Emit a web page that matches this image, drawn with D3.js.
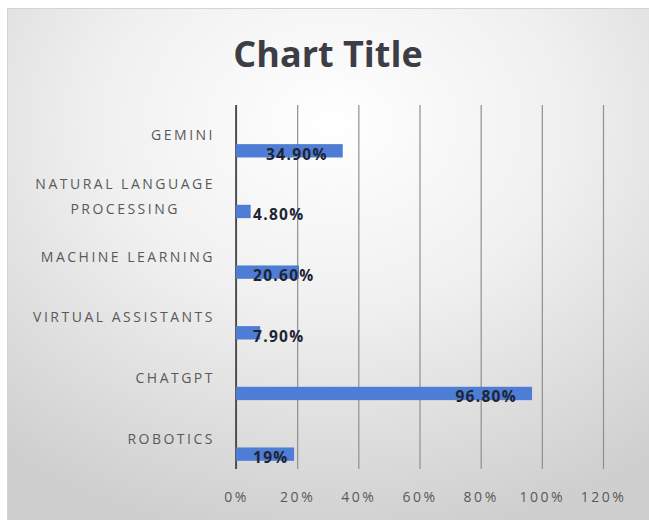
<!DOCTYPE html>
<html>
<head>
<meta charset="utf-8">
<script src="https://cdn.jsdelivr.net/npm/d3@7"></script>
<style>
  html, body { margin: 0; padding: 0; background: #fff; }
  svg { display: block; }
</style>
</head>
<body>
<svg id="chart"></svg>
<script>
// data, top to bottom as drawn
const categories = ["GEMINI", "NATURAL LANGUAGE PROCESSING", "MACHINE LEARNING", "VIRTUAL ASSISTANTS", "CHATGPT", "ROBOTICS"]
const values = [0.349, 0.048, 0.206, 0.079, 0.968, 0.19]
const valueLabels = ["34.90%", "4.80%", "20.60%", "7.90%", "96.80%", "19%"]
const tickValues = [0, 0.2, 0.4, 0.6, 0.8, 1.0, 1.2]
const title = "Chart Title"

const width = 649
const height = 520
const font = "'Open Sans', sans-serif"

const svg = d3.select('#chart')
  .attr('width', width)
  .attr('height', height)

// background gradient like the office style
const defs = svg.append('defs')
const grad = defs.append('radialGradient')
  .attr('id', 'bg')
  .attr('cx', '50%').attr('cy', '22%').attr('r', '80%')
grad.append('stop').attr('offset', '0%').attr('stop-color', '#ffffff')
grad.append('stop').attr('offset', '45%').attr('stop-color', '#f0f0f0')
grad.append('stop').attr('offset', '100%').attr('stop-color', '#cfcfcf')

svg.append('rect')
  .attr('x', 7.5).attr('y', 8.5)
  .attr('width', width).attr('height', height)
  .attr('fill', 'url(#bg)')
  .attr('stroke', '#d4d4d4')

// title
svg.append('text')
  .attr('x', 328).attr('y', 67)
  .attr('text-anchor', 'middle')
  .attr('font-family', font)
  .attr('font-weight', 'bold')
  .attr('font-size', '36px')
  .attr('fill', '#3d3d45')
  .text(title)

// scales
const xScale = d3.scaleLinear().domain([0, 1.2]).range([236, 603])
const yScale = d3.scaleBand().domain(categories).range([105, 469]).paddingInner(0)
const bw = yScale.bandwidth()

// gridlines + tick labels
const xAxis = d3.axisBottom(xScale)
  .tickValues(tickValues)
  .tickFormat(d3.format('.0%'))
  .tickSize(-(469 - 105))
  .tickPadding(23)

const gx = svg.append('g')
  .attr('transform', 'translate(0,469)')
  .call(xAxis)
gx.select('.domain').remove()
gx.selectAll('.tick line')
  .attr('stroke', '#8f8f8f')
  .attr('stroke-width', 1.2)
gx.selectAll('.tick text')
  .attr('font-family', font)
  .attr('font-size', '14px')
  .attr('letter-spacing', '2.5px')
  .attr('fill', '#595959')

// category axis line
svg.append('line')
  .attr('x1', xScale(0)).attr('x2', xScale(0))
  .attr('y1', 105).attr('y2', 469)
  .attr('stroke', '#333')
  .attr('stroke-width', 1.5)

// category labels, wrapped when too long
const labelRight = 215
const labels = svg.append('g')
categories.forEach((c) => {
  const t = labels.append('text')
    .attr('font-family', font)
    .attr('font-size', '14px')
    .attr('letter-spacing', '2.5px')
    .attr('fill', '#595959')
    .attr('text-anchor', 'middle')
  const words = c.split(' ')
  let lines = [c]
  t.text(c)
  if (t.node().getComputedTextLength() > 200) {
    lines = [words.slice(0, -1).join(' '), words[words.length - 1]]
  }
  t.text(null)
  const widths = lines.map((l) => { t.text(l); const w = t.node().getComputedTextLength(); t.text(null); return w })
  const blockW = d3.max(widths)
  const cx = labelRight - blockW / 2
  const cy = yScale(c) + bw / 2 + 5
  const lh = 25
  lines.forEach((l, i) => {
    t.append('tspan')
      .attr('x', cx)
      .attr('y', cy + (i - (lines.length - 1) / 2) * lh)
      .text(l)
  })
})

// bars
const chart = svg.append('g')
chart.selectAll('.bar')
  .data(categories)
  .enter()
  .append('rect')
  .attr('class', 'bar')
  .attr('x', xScale(0))
  .attr('y', (c) => yScale(c) + bw * 0.645)
  .attr('width', (c, i) => xScale(values[i]) - xScale(0))
  .attr('height', bw * 0.22)
  .attr('fill', '#4d7dd4')

// data labels
chart.selectAll('.label')
  .data(categories)
  .enter()
  .append('text')
  .attr('class', 'label')
  .attr('font-family', font)
  .attr('font-weight', 'bold')
  .attr('font-size', '15.5px')
  .attr('letter-spacing', '1.3px')
  .attr('fill', '#1f2433')
  .attr('y', (c) => yScale(c) + bw * 0.645 + bw * 0.11 + 9)
  .text((c, i) => valueLabels[i])
  .attr('x', function (c, i) {
    const w = this.getComputedTextLength()
    return Math.max(xScale(0) + 17, xScale(values[i]) - 15 - w)
  })
</script>
</body>
</html>
